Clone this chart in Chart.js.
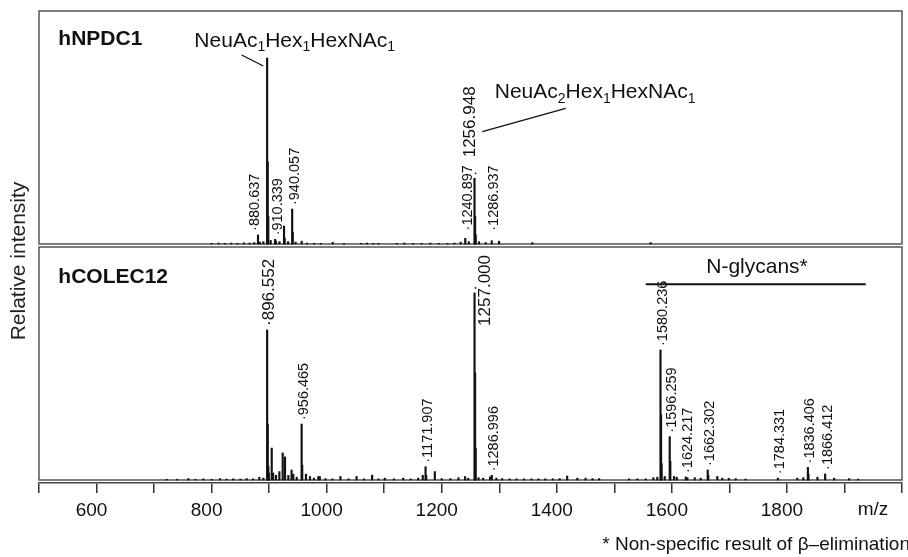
<!DOCTYPE html>
<html><head><meta charset="utf-8">
<script src="https://cdn.jsdelivr.net/npm/chart.js@4/dist/chart.umd.min.js"></script>
<style>html,body{margin:0;padding:0;background:#fff;}canvas{display:block;}</style>
</head><body>
<canvas id="c" width="908" height="557"></canvas>
<script>
// ---------------- DATA ----------------
// Upper spectrum (hNPDC1): m/z and relative intensity (% of panel height)
const topMz = [800, 812, 823, 834, 845, 856, 866, 874, 880.637, 884, 890, 896.5, 897.5, 898.5, 902.7, 910.339, 912, 918, 925.9, 927, 933, 940.057, 941, 946, 956.6, 966, 978, 990, 1010.5, 1030, 1060, 1070, 1081, 1090, 1122, 1135, 1150, 1165, 1180, 1195, 1210, 1222, 1233, 1240.897, 1247, 1256.948, 1258, 1259, 1264.8, 1276.5, 1286.937, 1299.6, 1357.5, 1563];
const topInt = [0.3, 0.4, 0.3, 0.4, 0.3, 0.5, 0.4, 0.6, 3.9, 0.8, 1.0, 79.8, 35.3, 11.7, 1.5, 2.0, 1.2, 1.0, 7.7, 2.5, 1.0, 15.0, 5.0, 0.8, 1.2, 0.4, 0.3, 0.3, 0.7, 0.3, 0.3, 0.4, 0.3, 0.3, 0.3, 0.4, 0.3, 0.3, 0.4, 0.3, 0.3, 0.4, 0.8, 2.4, 1.0, 28.2, 12.0, 4.0, 1.0, 0.6, 1.4, 1.2, 0.6, 0.6];
// Lower spectrum (hCOLEC12)
const botMz = [722, 740, 759.6, 772, 785.6, 800, 814.6, 826, 837.7, 850, 861, 872, 883, 890, 896.552, 897.55, 898.55, 899.5, 904.5, 907, 912, 917.8, 923.6, 927.6, 933.4, 939, 942, 948, 956.465, 957.5, 964, 971, 978, 985.5, 988, 998, 1010, 1024, 1038, 1052, 1065, 1079, 1090, 1101, 1117, 1133, 1146, 1159, 1167, 1171.907, 1173, 1188, 1200, 1215, 1229, 1240.5, 1246, 1257.000, 1258, 1259, 1264, 1272, 1284, 1286.996, 1295, 1305, 1318, 1330, 1343, 1356, 1368, 1380, 1393, 1405, 1418, 1435.7, 1450, 1462, 1473.5, 1525.6, 1540, 1554.6, 1567.8, 1574.7, 1580.236, 1581.2, 1582.2, 1587.6, 1596.259, 1597.3, 1603.7, 1608.5, 1624.217, 1627, 1639.7, 1650, 1662.302, 1663.3, 1679, 1687.7, 1699, 1711, 1728, 1784.331, 1818, 1828.5, 1836.406, 1837.4, 1853, 1866.412, 1882, 1908, 1923.6];
const botInt = [0.3, 0.3, 0.6, 0.3, 0.5, 0.3, 0.6, 0.4, 0.5, 0.4, 0.6, 0.5, 1.2, 0.8, 64.4, 24.0, 6.0, 3.0, 13.7, 3.0, 2.0, 3.6, 11.6, 9.9, 2.0, 4.3, 2.5, 1.2, 24.0, 6.4, 2.5, 1.5, 0.8, 1.5, 1.5, 0.6, 0.5, 1.5, 0.5, 1.5, 0.5, 2.1, 0.5, 0.8, 0.5, 0.8, 0.5, 0.8, 2.0, 5.7, 2.0, 3.6, 0.6, 0.6, 1.0, 1.5, 0.8, 80.3, 46.0, 13.7, 1.0, 0.8, 1.3, 2.0, 0.8, 0.6, 0.5, 0.5, 0.5, 0.5, 0.5, 0.5, 0.5, 0.6, 1.7, 0.8, 0.8, 0.6, 0.6, 0.5, 0.5, 0.5, 1.0, 1.2, 55.8, 28.0, 7.0, 1.5, 18.6, 8.0, 1.5, 1.2, 1.3, 1.0, 1.0, 0.8, 4.3, 2.0, 1.5, 0.8, 0.7, 0.6, 0.4, 0.8, 0.8, 1.0, 5.4, 2.5, 1.2, 2.6, 0.8, 0.6, 0.4];
// Peak labels (text = m/z)
const topLabels = ['880.637', '910.339', '940.057', '1240.897', '1256.948', '1286.937'];
const botLabels = ['896.552', '956.465', '1171.907', '1257.000', '1286.996', '1580.236', '1596.259', '1624.217', '1662.302', '1784.331', '1836.406', '1866.412'];
// Axis
const xTickLabels = [600, 800, 1000, 1200, 1400, 1600, 1800];
const panelNames = ['hNPDC1', 'hCOLEC12'];
const yTitle = 'Relative intensity';
const xTitle = 'm/z';
const footnote = '* Non-specific result of \u03B2\u2013elimination';
const formula1 = [['NeuAc', 0], ['1', 1], ['Hex', 0], ['1', 1], ['HexNAc', 0], ['1', 1]];
const formula2 = [['NeuAc', 0], ['2', 1], ['Hex', 0], ['1', 1], ['HexNAc', 0], ['1', 1]];
const groupLabel = 'N-glycans*';

// ---------------- STYLE / LAYOUT ----------------
const FONT = '"Liberation Sans", Arial, sans-serif';
const majorLabels = ['896.552', '1257.000', '1256.948'];
const labelLayout = {
  '880.637': { dx: -3 },
  '1240.897': { lift: 8 },
  '1286.937': { lift: 10 },
  '1256.948': { dx: -4, lift: 21, sepDot: true },
  '1257.000': { dx: 11, fromTop: 8, sepDot: true }
};
// annotation anchors in data coordinates (m/z, value)
const ann = {
  name1: { x: 533.6, y: 85.4 },
  name2: { x: 533.6, y: 84.4 },
  f1: { x: 944.5, y: 84.7 }, f1Lead: [[852.3, 81.1], [889.8, 76.4]],
  f2: { x: 1292.1, y: 62.5 }, f2Lead: [[1415.5, 58.2], [1270.5, 48.2]],
  grp: { x: 1748, y: 88.7 }, grpLine: [[1554.6, 84.0], [1937, 84.0]]
};

function peakHeight(mzArr, intArr, mz) {
  let h = 0;
  mzArr.forEach((m, i) => { if (Math.abs(m - mz) < 0.6) h = Math.max(h, intArr[i]); });
  return h;
}

function drawFormula(ctx, segs, x, y, align, size, subSize) {
  let w = 0;
  segs.forEach(([t, s]) => { ctx.font = (s ? subSize : size) + 'px ' + FONT; w += ctx.measureText(t).width; });
  let cx = align === 'center' ? x - w / 2 : x;
  ctx.textAlign = 'left'; ctx.textBaseline = 'alphabetic';
  segs.forEach(([t, s]) => {
    ctx.font = (s ? subSize : size) + 'px ' + FONT;
    ctx.fillText(t, cx, s ? y + size * 0.22 : y);
    cx += ctx.measureText(t).width;
  });
}

function drawLabels(ctx, chart, mzArr, intArr, labels, yScale) {
  const xs = chart.scales.x;
  labels.forEach(lbl => {
    const mz = parseFloat(lbl);
    const h = peakHeight(mzArr, intArr, mz);
    const px = xs.getPixelForValue(mz);
    const py = yScale.getPixelForValue(h);
    const major = majorLabels.includes(lbl);
    const lay = labelLayout[lbl] || {};
    const dx = lay.dx !== undefined ? lay.dx : 2.5;
    const size = major ? 17 : 14.5;
    ctx.font = size + 'px ' + FONT;
    const txt = lay.sepDot ? lbl : '\u00B7' + lbl;
    const w = ctx.measureText(txt).width;
    let anchorY;
    if (lay.fromTop !== undefined) anchorY = yScale.top + lay.fromTop + w;
    else anchorY = py - (lay.lift !== undefined ? lay.lift : 4);
    if (lay.sepDot) {
      ctx.save(); ctx.beginPath(); ctx.arc(px + 1, py - 5, 0.9, 0, Math.PI * 2); ctx.fill(); ctx.restore();
    }
    ctx.save();
    ctx.translate(px + dx, anchorY);
    ctx.rotate(-Math.PI / 2);
    ctx.textAlign = 'left'; ctx.textBaseline = 'middle';
    ctx.fillText(txt, 0, 0);
    ctx.restore();
  });
}

const spectraPlugin = {
  id: 'spectra',
  beforeDatasetsDraw(chart) {
    const { ctx, chartArea } = chart;
    ctx.save();
    ctx.strokeStyle = '#555'; ctx.lineWidth = 1.5;
    [chart.scales.yTop, chart.scales.yBot].forEach(s => {
      const top = s.getPixelForValue(s.max), base = s.getPixelForValue(0);
      ctx.strokeRect(chartArea.left, top, chartArea.right - chartArea.left, base - top);
    });
    ctx.restore();
  },
  afterDraw(chart) {
    const { ctx } = chart;
    const xs = chart.scales.x, yT = chart.scales.yTop, yB = chart.scales.yBot;
    ctx.save();
    ctx.fillStyle = '#111'; ctx.strokeStyle = '#111';
    // peak labels
    drawLabels(ctx, chart, topMz, topInt, topLabels, yT);
    drawLabels(ctx, chart, botMz, botInt, botLabels, yB);
    // panel names
    ctx.font = 'bold 21px ' + FONT; ctx.textAlign = 'left'; ctx.textBaseline = 'alphabetic';
    ctx.fillText(panelNames[0], xs.getPixelForValue(ann.name1.x), yT.getPixelForValue(ann.name1.y));
    ctx.fillText(panelNames[1], xs.getPixelForValue(ann.name2.x), yB.getPixelForValue(ann.name2.y));
    // formulas
    drawFormula(ctx, formula1, xs.getPixelForValue(ann.f1.x), yT.getPixelForValue(ann.f1.y), 'center', 21, 14);
    drawFormula(ctx, formula2, xs.getPixelForValue(ann.f2.x), yT.getPixelForValue(ann.f2.y), 'left', 21, 14);
    ctx.lineWidth = 1.3;
    [ann.f1Lead, ann.f2Lead].forEach(seg => {
      ctx.beginPath();
      ctx.moveTo(xs.getPixelForValue(seg[0][0]), yT.getPixelForValue(seg[0][1]));
      ctx.lineTo(xs.getPixelForValue(seg[1][0]), yT.getPixelForValue(seg[1][1]));
      ctx.stroke();
    });
    // N-glycans group
    ctx.font = '21px ' + FONT; ctx.textAlign = 'center'; ctx.textBaseline = 'alphabetic';
    ctx.fillText(groupLabel, xs.getPixelForValue(ann.grp.x), yB.getPixelForValue(ann.grp.y));
    ctx.lineWidth = 2;
    ctx.beginPath();
    ctx.moveTo(xs.getPixelForValue(ann.grpLine[0][0]), yB.getPixelForValue(ann.grpLine[0][1]));
    ctx.lineTo(xs.getPixelForValue(ann.grpLine[1][0]), yB.getPixelForValue(ann.grpLine[1][1]));
    ctx.stroke();
    // y title
    ctx.save();
    ctx.translate(19, 261); ctx.rotate(-Math.PI / 2);
    ctx.font = '21px ' + FONT; ctx.textAlign = 'center'; ctx.textBaseline = 'middle';
    ctx.fillStyle = '#222';
    ctx.fillText(yTitle, 0, 0);
    ctx.restore();
    // x title
    ctx.font = '19px ' + FONT; ctx.textAlign = 'center'; ctx.textBaseline = 'middle';
    ctx.fillText(xTitle, 873, xs.top + 27);
    // footnote
    ctx.font = '19px ' + FONT; ctx.textAlign = 'right'; ctx.textBaseline = 'middle';
    ctx.fillText(footnote, 910, 545);
    ctx.restore();
  }
};

const mk = (mz, it) => mz.map((m, i) => ({ x: m, y: it[i] }));

new Chart(document.getElementById('c'), {
  type: 'bar',
  data: {
    datasets: [
      { data: mk(topMz, topInt), yAxisID: 'yTop', backgroundColor: '#111', barThickness: 1.5, grouped: false },
      { data: mk(botMz, botInt), yAxisID: 'yBot', backgroundColor: '#111', barThickness: 1.5, grouped: false }
    ]
  },
  options: {
    responsive: false, animation: false, devicePixelRatio: 1,
    layout: { padding: { left: 39, right: 6, top: 11, bottom: 0 } },
    plugins: { legend: { display: false }, tooltip: { enabled: false } },
    scales: {
      x: {
        type: 'linear', min: 500, max: 2000, offset: false,
        grid: { display: true, drawOnChartArea: false, drawTicks: true, tickLength: 10, color: '#333', lineWidth: 1.5, offset: false },
        border: { display: true, color: '#444', width: 1.5 },
        ticks: {
          stepSize: 100, autoSkip: false, maxRotation: 0, minRotation: 0, padding: 6, labelOffset: -5,
          color: '#111', font: { family: FONT, size: 19 },
          callback: v => xTickLabels.includes(v) ? String(v) : ''
        },
        afterFit: s => { s.height = 74; }
      },
      yTop: { type: 'linear', position: 'left', stack: 'panels', stackWeight: 1, weight: 2, display: false, min: -1.29, max: 100 },
      yBot: { type: 'linear', position: 'left', stack: 'panels', stackWeight: 1, weight: 1, display: false, min: -1.29, max: 100 }
    }
  },
  plugins: [spectraPlugin]
});
</script>
</body></html>
